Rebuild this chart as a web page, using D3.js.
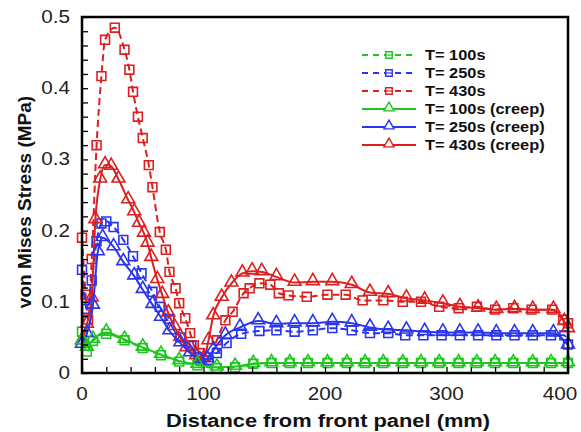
<!DOCTYPE html>
<html><head><meta charset="utf-8">
<script src="https://cdn.jsdelivr.net/npm/d3@7"></script>
<style>body{margin:0;background:#fff}svg{display:block}</style>
</head><body>
<svg id="c" width="581" height="432"></svg>
<script>
const xTicks = [0, 100, 200, 300, 400];
const yTicks = [0, 0.1, 0.2, 0.3, 0.4, 0.5];
const yTickLabels = ["0", "0.1", "0.2", "0.3", "0.4", "0.5"];
const seriesNames = ["T= 100s", "T= 250s", "T= 430s", "T= 100s (creep)", "T= 250s (creep)", "T= 430s (creep)"];

const x100 = [0, 4, 9, 20, 35, 50, 65, 80, 95, 111, 126, 141, 156, 171, 186, 202, 218, 233, 248, 264, 279, 294, 310, 325, 340, 355, 371, 386, 400];
const y100 = [0.058, 0.03, 0.045, 0.055, 0.046, 0.035, 0.025, 0.016, 0.011, 0.007, 0.008, 0.013, 0.014, 0.014, 0.014, 0.014, 0.014, 0.014, 0.014, 0.014, 0.014, 0.014, 0.014, 0.014, 0.014, 0.014, 0.014, 0.014, 0.014];

const x250 = [0, 4, 8, 12, 16, 20, 26, 34, 42, 49, 58, 64, 72, 81, 90, 96, 104, 111, 119, 131, 146, 160, 175, 190, 206, 222, 237, 252, 266, 281, 296, 311, 326, 341, 356, 371, 386, 397, 400];
const y250 = [0.145, 0.09, 0.13, 0.185, 0.21, 0.213, 0.205, 0.187, 0.164, 0.14, 0.114, 0.093, 0.076, 0.05, 0.038, 0.022, 0.018, 0.028, 0.042, 0.055, 0.059, 0.06, 0.058, 0.06, 0.063, 0.06, 0.056, 0.056, 0.053, 0.053, 0.053, 0.053, 0.053, 0.053, 0.053, 0.053, 0.053, 0.053, 0.04];

const x430 = [0, 3, 5, 8, 12, 16, 19, 27, 35, 39, 42, 46, 50, 55, 58, 64, 69, 72, 77, 80, 85, 89, 92, 97, 104, 111, 118, 124, 133, 138, 146, 155, 162, 170, 185, 202, 217, 231, 248, 264, 279, 294, 310, 325, 340, 355, 370, 387, 396, 400];
const y430 = [0.19, 0.11, 0.075, 0.16, 0.32, 0.417, 0.468, 0.485, 0.454, 0.426, 0.395, 0.36, 0.33, 0.292, 0.261, 0.198, 0.173, 0.142, 0.119, 0.098, 0.077, 0.056, 0.039, 0.028, 0.018, 0.046, 0.074, 0.086, 0.112, 0.119, 0.126, 0.124, 0.112, 0.109, 0.107, 0.11, 0.11, 0.102, 0.102, 0.1, 0.1, 0.093, 0.091, 0.093, 0.089, 0.091, 0.089, 0.089, 0.075, 0.07];

const x100c = [0, 4, 9, 20, 35, 50, 65, 80, 95, 111, 126, 141, 156, 171, 186, 202, 218, 233, 248, 264, 279, 294, 310, 325, 340, 355, 371, 386, 400];
const y100c = [0.045, 0.036, 0.047, 0.057, 0.047, 0.036, 0.026, 0.017, 0.012, 0.008, 0.009, 0.013, 0.014, 0.014, 0.014, 0.014, 0.014, 0.014, 0.014, 0.014, 0.014, 0.014, 0.014, 0.014, 0.014, 0.014, 0.014, 0.014, 0.014];

const x250c = [0, 4, 9, 13, 17, 26, 34, 43, 50, 58, 65, 72, 81, 89, 97, 103, 108, 118, 130, 145, 160, 175, 190, 206, 222, 237, 252, 267, 282, 297, 311, 326, 341, 356, 371, 388, 400];
const y250c = [0.04, 0.055, 0.095, 0.17, 0.19, 0.177, 0.156, 0.136, 0.117, 0.096, 0.078, 0.059, 0.042, 0.028, 0.018, 0.02, 0.032, 0.053, 0.064, 0.073, 0.069, 0.07, 0.07, 0.072, 0.07, 0.064, 0.061, 0.06, 0.058, 0.057, 0.057, 0.057, 0.056, 0.056, 0.056, 0.056, 0.039];

const x430c = [0, 4, 8, 11, 15, 19, 24, 30, 38, 43, 47, 51, 54, 57, 62, 66, 71, 76, 81, 86, 94, 100, 104, 108, 115, 123, 132, 140, 148, 160, 175, 190, 206, 222, 237, 252, 267, 282, 297, 311, 326, 341, 356, 371, 388, 397, 400];
const y430c = [0.045, 0.068, 0.105, 0.215, 0.272, 0.292, 0.29, 0.272, 0.243, 0.226, 0.21, 0.196, 0.182, 0.162, 0.131, 0.11, 0.084, 0.065, 0.05, 0.035, 0.024, 0.02, 0.045, 0.08, 0.106, 0.126, 0.14, 0.143, 0.142, 0.135, 0.127, 0.128, 0.128, 0.124, 0.113, 0.111, 0.105, 0.102, 0.098, 0.093, 0.091, 0.089, 0.09, 0.089, 0.089, 0.072, 0.062];

const colors = ["#1fc61f", "#2a35ee", "#dc1f1f"];

const series = [
  {name: seriesNames[0], xs: x100, ys: y100, color: colors[0], dashed: true, marker: "square"},
  {name: seriesNames[1], xs: x250, ys: y250, color: colors[1], dashed: true, marker: "square"},
  {name: seriesNames[2], xs: x430, ys: y430, color: colors[2], dashed: true, marker: "square"},
  {name: seriesNames[3], xs: x100c, ys: y100c, color: colors[0], dashed: false, marker: "triangle"},
  {name: seriesNames[4], xs: x250c, ys: y250c, color: colors[1], dashed: false, marker: "triangle"},
  {name: seriesNames[5], xs: x430c, ys: y430c, color: colors[2], dashed: false, marker: "triangle"}
];

const svg = d3.select("#c");
const L = 82, R = 568, T = 17, B = 373;
const x = d3.scaleLinear().domain([0, 400]).range([L, R]);
const y = d3.scaleLinear().domain([0, 0.5]).range([B, T]);
const FONT = "Liberation Sans, Arial, Helvetica, sans-serif";
const SX = 1.15; // horizontal stretch of text seen in the reference

const sym = {
  square: d3.symbol().type(d3.symbolSquare).size(78),
  triangle: d3.symbol().type(d3.symbolTriangle).size(72)
};

const plot = svg.append("g");
const line = d3.line().x(d => x(d[0])).y(d => y(d[1])).curve(d3.curveMonotoneX);

const order = [2, 1, 0, 5, 4, 3];
order.forEach(i => {
  const s = series[i];
  const pts = s.xs.map((v, k) => [v, s.ys[k]]);
  plot.append("path").datum(pts)
    .attr("d", line)
    .attr("fill", "none")
    .attr("stroke", s.color)
    .attr("stroke-width", 2)
    .attr("stroke-dasharray", s.dashed ? "7,4" : null);
  plot.selectAll(null).data(pts).enter().append("path")
    .attr("d", sym[s.marker])
    .attr("transform", d => `translate(${x(d[0])},${y(d[1]) + (s.marker === "triangle" ? -1 : 0)})`)
    .attr("fill", "none")
    .attr("stroke", s.color)
    .attr("stroke-width", 1.6);
});

// axes: inward ticks on bottom and left
const xAxis = d3.axisBottom(x).tickValues(d3.range(0, 401, 20)).tickSize(-6).tickFormat("");
svg.append("g").attr("transform", `translate(0,${B})`).call(xAxis)
  .call(g => g.select(".domain").remove())
  .call(g => g.selectAll("line").attr("stroke", "#000").attr("stroke-width", 1.3));
const yAxis = d3.axisLeft(y).tickValues(d3.range(0, 0.501, 0.02)).tickSize(-6).tickFormat("");
svg.append("g").attr("transform", `translate(${L},0)`).call(yAxis)
  .call(g => g.select(".domain").remove())
  .call(g => g.selectAll("line").attr("stroke", "#000").attr("stroke-width", 1.3));

// frame
svg.append("rect").attr("x", L).attr("y", T).attr("width", R - L).attr("height", B - T)
  .attr("fill", "none").attr("stroke", "#000").attr("stroke-width", 2.5);

// tick labels (last label kept inside the picture edge)
svg.append("g").selectAll("text").data(xTicks).enter().append("text")
  .attr("transform", d => `translate(${Math.min(x(d), 560)},400) scale(${SX},1)`)
  .attr("text-anchor", "middle")
  .attr("font-family", FONT)
  .attr("font-size", 18).attr("fill", "#222")
  .text(d => d);
svg.append("g").selectAll("text").data(yTicks).enter().append("text")
  .attr("transform", d => `translate(70,${y(d) + 6}) scale(${SX},1)`)
  .attr("text-anchor", "end")
  .attr("font-family", FONT)
  .attr("font-size", 18).attr("fill", "#222")
  .text((d, i) => yTickLabels[i]);

// axis titles
svg.append("text").attr("transform", `translate(328,427) scale(${SX},1)`)
  .attr("text-anchor", "middle")
  .attr("font-family", FONT)
  .attr("font-weight", "bold").attr("font-size", 19).attr("fill", "#111")
  .text("Distance from front panel (mm)");
svg.append("text").attr("transform", "translate(31,202) rotate(-90)")
  .attr("text-anchor", "middle")
  .attr("font-family", FONT)
  .attr("font-weight", "bold").attr("font-size", 19).attr("fill", "#111")
  .text("von Mises Stress (MPa)");

// legend
const leg = svg.append("g");
series.forEach((s, i) => {
  const yy = 55 + i * 18;
  leg.append("line").attr("x1", 362).attr("x2", 416).attr("y1", yy).attr("y2", yy)
    .attr("stroke", s.color).attr("stroke-width", 1.8)
    .attr("stroke-dasharray", s.dashed ? "6,5" : null);
  leg.append("path").attr("d", d3.symbol().type(s.marker === "square" ? d3.symbolSquare : d3.symbolTriangle).size(s.marker === "square" ? 42 : 44))
    .attr("transform", `translate(389,${yy + (s.marker === "triangle" ? -1 : 0)})`)
    .attr("fill", "#fff").attr("stroke", s.color).attr("stroke-width", 1.4);
  if (s.marker === "square") {
    leg.append("line").attr("x1", 386).attr("x2", 392).attr("y1", yy).attr("y2", yy)
      .attr("stroke", s.color).attr("stroke-width", 1.2);
  }
  leg.append("text").attr("transform", `translate(425,${yy + 5}) scale(1.17,1)`)
    .attr("font-family", FONT)
    .attr("font-weight", "bold").attr("font-size", 14).attr("fill", "#111")
    .text(s.name);
});
</script>
</body></html>
